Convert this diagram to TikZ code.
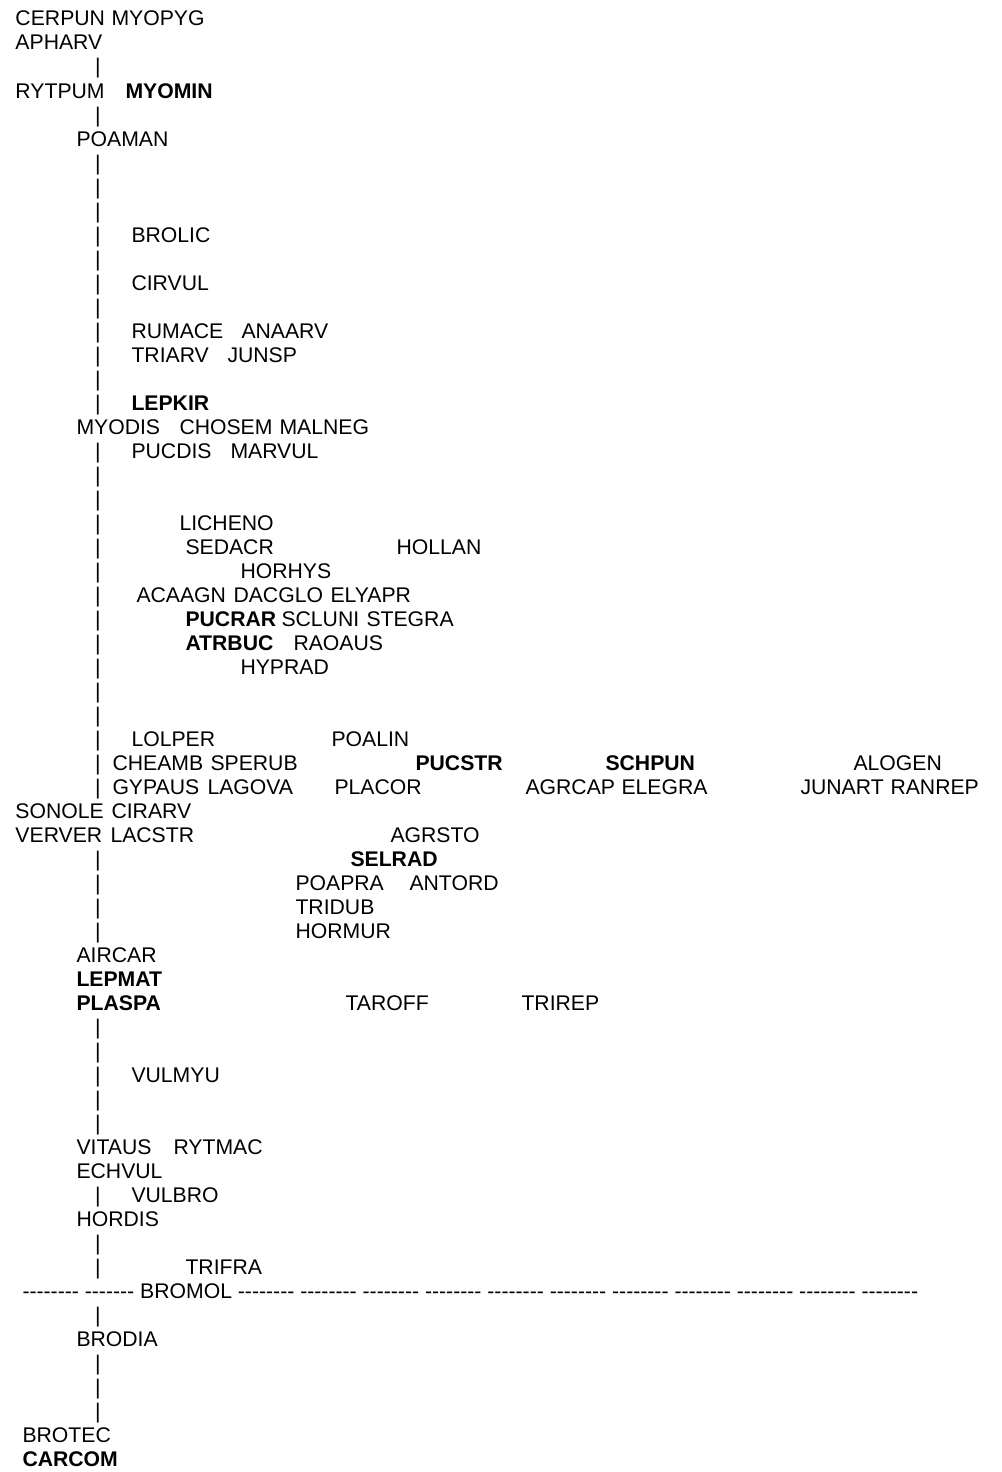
\documentclass[tikz,border=0pt]{standalone}
\usepackage{fontspec}
\setmainfont{Liberation Sans}[Ligatures=TeXOff]
\newcommand\Wd[5]{\node[word,#5] (#1) at ({#2-1.5},{26+24*(#3-1)}) {#4};}
\begin{document}
\begin{tikzpicture}[x=1pt,y=-1pt,
  word/.style={anchor=base west,inner sep=0pt,outer sep=0pt,font=\fontsize{21.2}{24}\selectfont},
  bar/.style={anchor=base,inner sep=0pt,outer sep=0pt,font=\fontsize{21.2}{24}\selectfont},
  hl/.style={font=\fontsize{21.2}{24}\selectfont\bfseries}]
\fill[white] (0,0) rectangle (1001,1472);
\useasboundingbox (0,0) rectangle (1001,1472);
% vertical bars
\foreach \r in {3,5,7,8,9,10,11,12,13,14,15,16,17,19,20,21,22,23,24,25,26,27,28,29,30,31,32,33,36,37,38,39,43,44,45,46,47,50,52,53,55,57,58,59}
  \node[bar] (bar\r) at (98,{26+24*(\r-1)}) {|};
% rows
\Wd{cerpun}{17}{1}{CERPUN}{}
\Wd{myopyg}{113}{1}{MYOPYG}{}
\Wd{apharv}{17}{2}{APHARV}{}
\Wd{rytpum}{17}{4}{RYTPUM}{}
\Wd{myomin}{127}{4}{MYOMIN}{hl}
\Wd{poaman}{78}{6}{POAMAN}{}
\Wd{brolic}{133}{10}{BROLIC}{}
\Wd{cirvul}{133}{12}{CIRVUL}{}
\Wd{rumace}{133}{14}{RUMACE}{}
\Wd{anaarv}{243}{14}{ANAARV}{}
\Wd{triarv}{133}{15}{TRIARV}{}
\Wd{junsp}{229}{15}{JUNSP}{}
\Wd{lepkir}{133}{17}{LEPKIR}{hl}
\Wd{myodis}{78}{18}{MYODIS}{}
\Wd{chosem}{181}{18}{CHOSEM}{}
\Wd{malneg}{281}{18}{MALNEG}{}
\Wd{pucdis}{133}{19}{PUCDIS}{}
\Wd{marvul}{232}{19}{MARVUL}{}
\Wd{licheno}{181}{22}{LICHENO}{}
\Wd{sedacr}{187}{23}{SEDACR}{}
\Wd{hollan}{398}{23}{HOLLAN}{}
\Wd{horhys}{242}{24}{HORHYS}{}
\Wd{acaagn}{138}{25}{ACAAGN}{}
\Wd{dacglo}{235}{25}{DACGLO}{}
\Wd{elyapr}{332}{25}{ELYAPR}{}
\Wd{pucrar}{187}{26}{PUCRAR}{hl}
\Wd{scluni}{283}{26}{SCLUNI}{}
\Wd{stegra}{368}{26}{STEGRA}{}
\Wd{atrbuc}{187}{27}{ATRBUC}{hl}
\Wd{raoaus}{295}{27}{RAOAUS}{}
\Wd{hyprad}{242}{28}{HYPRAD}{}
\Wd{lolper}{133}{31}{LOLPER}{}
\Wd{poalin}{333}{31}{POALIN}{}
\Wd{cheamb}{114}{32}{CHEAMB}{}
\Wd{sperub}{212}{32}{SPERUB}{}
\Wd{pucstr}{417}{32}{PUCSTR}{hl}
\Wd{schpun}{607}{32}{SCHPUN}{hl}
\Wd{alogen}{855}{32}{ALOGEN}{}
\Wd{gypaus}{114}{33}{GYPAUS}{}
\Wd{lagova}{209}{33}{LAGOVA}{}
\Wd{placor}{336}{33}{PLACOR}{}
\Wd{agrcap}{527}{33}{AGRCAP}{}
\Wd{elegra}{623}{33}{ELEGRA}{}
\Wd{junart}{802}{33}{JUNART}{}
\Wd{ranrep}{892}{33}{RANREP}{}
\Wd{sonole}{17}{34}{SONOLE}{}
\Wd{cirarv}{113}{34}{CIRARV}{}
\Wd{verver}{17}{35}{VERVER}{}
\Wd{lacstr}{112}{35}{LACSTR}{}
\Wd{agrsto}{392}{35}{AGRSTO}{}
\Wd{selrad}{352}{36}{SELRAD}{hl}
\Wd{poapra}{297}{37}{POAPRA}{}
\Wd{antord}{411}{37}{ANTORD}{}
\Wd{tridub}{297}{38}{TRIDUB}{}
\Wd{hormur}{297}{39}{HORMUR}{}
\Wd{aircar}{78}{40}{AIRCAR}{}
\Wd{lepmat}{78}{41}{LEPMAT}{hl}
\Wd{plaspa}{78}{42}{PLASPA}{hl}
\Wd{taroff}{347}{42}{TAROFF}{}
\Wd{trirep}{523}{42}{TRIREP}{}
\Wd{vulmyu}{133}{45}{VULMYU}{}
\Wd{vitaus}{78}{48}{VITAUS}{}
\Wd{rytmac}{175}{48}{RYTMAC}{}
\Wd{echvul}{78}{49}{ECHVUL}{}
\Wd{vulbro}{133}{50}{VULBRO}{}
\Wd{hordis}{78}{51}{HORDIS}{}
\Wd{trifra}{187}{53}{TRIFRA}{}
\Wd{bromol}{24}{54}{-------- ------- BROMOL -------- -------- -------- -------- -------- -------- -------- -------- -------- -------- --------}{}
\Wd{brodia}{78}{56}{BRODIA}{}
\Wd{brotec}{24}{60}{BROTEC}{}
\Wd{carcom}{24}{61}{CARCOM}{hl}
\end{tikzpicture}
\end{document}
